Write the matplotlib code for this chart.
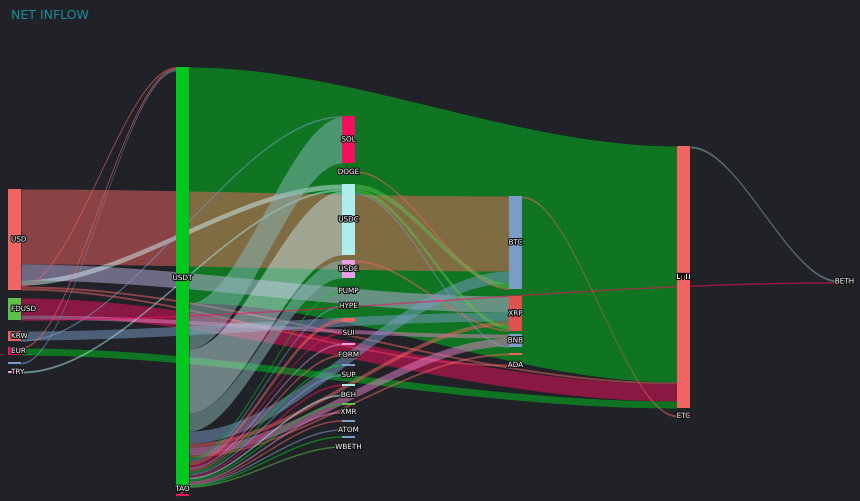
import numpy as np
import matplotlib
matplotlib.use("Agg")
import matplotlib.pyplot as plt
import matplotlib.patheffects as pe

# ---- data ----
node_names = ["USD","FDUSD","KRW","EUR","N_BLUE","TRY",
              "USDT","TAO",
              "SOL","DOGE","USDC","USDE","PUMP","HYPE","N_RED","SUI","N_PINK","FORM","N_BLUE2",
              "SUP","N_CYAN","BCH","N_GREEN","XMR","N_G1","ATOM","N_G2","WBETH",
              "BTC","XRP","BNB","N_RED2","ADA",
              "ETH","ETC","BETH"]
node_labels = ["USD","FDUSD","KRW","EUR","","TRY",
               "USDT","TAO",
               "SOL","DOGE","USDC","USDE","PUMP","HYPE","","SUI","","FORM","",
               "SUP","","BCH","","XMR","","ATOM","","WBETH",
               "BTC","XRP","BNB","","ADA",
               "ETH","ETC","BETH"]
node_colors = ["#f26464","#5cc24a","#f26464","#f2105e","#7a9cc8","#e8a0e8",
               "#00c81e","#f2105e",
               "#f2105e","#f26464","#b0eeee","#e8a0e8","#7a9cc8","#00a020","#f26464","#7a9cc8","#e8a0e8","#7a9cc8","#7a9cc8",
               "#7a9cc8","#b0eeee","#7a9cc8","#5cc24a","#7a9cc8","#7a9cc8","#7a9cc8","#7a9cc8","#5cc24a",
               "#7a9cc8","#e05050","#7a9cc8","#f26464","#f26464",
               "#f26464","#f26464","#5cc24a"]

link_src = ["USDT","USD","USD","USD","USD","USD","USD","FDUSD","FDUSD","KRW","KRW","EUR","EUR","N_BLUE","TRY",
            "USDT","USDT","USDT","USDT","USDT","USDT","USDT","USDT","USDT","USDT","USDT","USDT","USDT",
            "USDT","USDT","USDT","USDT","USDT","USDT","USDT","USDT","USDT","USDT","USDT",
            "USDC","USDC","USDC","DOGE","USDE","BTC","ETH","FDUSD"]
link_tgt = ["ETH","BTC","XRP","USDC","USDT","ETH","ADA","ETH","BNB","XRP","SOL","USDT","ETH","USDT","USDC",
            "SOL","USDC","USDE","BTC","XRP","BNB","N_RED2","PUMP","HYPE","N_RED","SUI","N_PINK","FORM",
            "N_BLUE2","SUP","N_CYAN","BCH","N_GREEN","XMR","N_G1","ATOM","N_G2","WBETH","TAO",
            "BTC","XRP","BNB","BTC","XRP","ETC","BETH","BETH"]
link_val = [236,75,16,5,1,2,2,17,4,9,1,1,7,2,2,
            46,64,18,12,4,8,2,2,2,4,2,2,2,
            2,2,2,2,2,2,1,1,1,1,2,
            5,4,1,1,2,2,2,1]
link_colors = ["#00c81e","#f26464","#c0b0e0","#d0f0f0","#f26464","#f26464","#f26464","#f2105e","#e880c8","#7a9cc8","#7a9cc8","#f26464","#00c81e","#7a9cc8","#b0eeee",
               "#8ab8b8","#c0e0e0","#8ab8b8","#7a9cc8","#f26464","#e880c8","#f26464","#00c81e","#7a9cc8","#f26464","#f2105e","#e880c8","#f26464",
               "#00c81e","#7a9cc8","#f2105e","#b0eeee","#00c81e","#e880c8","#f26464","#7a9cc8","#00c81e","#5cc24a","#f26464",
               "#5cc24a","#5cc24a","#7a9cc8","#f26464","#f26464","#f26464","#8ab8b8","#f2105e"]

# ---- layout ----
col_x = {"USD":8,"FDUSD":8,"KRW":8,"EUR":8,"N_BLUE":8,"TRY":8,"USDT":176,"TAO":176,
         "BTC":509,"XRP":509,"BNB":509,"N_RED2":509,"ADA":509,"ETH":677,"ETC":677,"BETH":838}
node_top = {"USD":189,"FDUSD":298,"KRW":331,"EUR":347,"N_BLUE":362,"TRY":371,"USDT":67,"TAO":494,
            "SOL":116,"DOGE":171,"USDC":184,"USDE":260,"PUMP":290,"HYPE":305,"N_RED":318,"SUI":332,
            "N_PINK":343,"FORM":354,"N_BLUE2":364,"SUP":374,"N_CYAN":384,"BCH":394,"N_GREEN":403,
            "XMR":411,"N_G1":420,"ATOM":429,"N_G2":436,"WBETH":446,
            "BTC":196,"XRP":296,"BNB":334,"N_RED2":353,"ADA":364,"ETH":146,"ETC":415,"BETH":280}
NW = 13
idx = {n:i for i,n in enumerate(node_names)}
inflow = {n:0 for n in node_names}; outflow = {n:0 for n in node_names}
for s,t,v in zip(link_src,link_tgt,link_val):
    outflow[s]+=v; inflow[t]+=v
height = {n:max(inflow[n],outflow[n],2) for n in node_names}
xpos = {n:col_x.get(n,342) for n in node_names}

fig = plt.figure(figsize=(8.6,5.01),dpi=100,facecolor="#202227")
ax = fig.add_axes([0,0,1,1]); ax.set_facecolor("#202227")
ax.set_xlim(0,860); ax.set_ylim(501,0); ax.axis("off")

out_off = {n:0 for n in node_names}; in_off = {n:0 for n in node_names}
for i in range(len(link_val)):
    s,t,v=link_src[i],link_tgt[i],link_val[i]
    y0=node_top[s]+out_off[s]; out_off[s]+=v
    y1=node_top[t]+in_off[t]; in_off[t]+=v
    x0=xpos[s]+NW; x1=xpos[t]
    xs=np.linspace(x0,x1,160); u=(xs-x0)/(x1-x0)
    e=3*u**2-2*u**3
    y=y0+(y1-y0)*e
    ax.fill_between(xs,y,y+v,color=link_colors[i],alpha=0.5,lw=0.3 if v<2 else 0,
                    edgecolor=link_colors[i],zorder=1)

for n in node_names:
    c=node_colors[idx[n]]
    ax.add_patch(plt.Rectangle((xpos[n],node_top[n]),NW,height[n],color=c,zorder=3,lw=0))
    lab=node_labels[idx[n]]
    if lab:
        left = xpos[n] < 20
        ty = node_top[n]+height[n]/2
        if n == "TAO":
            ty = node_top[n]-5
        ax.text(xpos[n]+3 if left else xpos[n]+NW/2, ty, lab,
                ha="left" if left else "center", va="center", fontsize=5.2, color="white",
                zorder=4, path_effects=[pe.withStroke(linewidth=1.6,foreground="#111111")])

ax.text(11,15,"NET INFLOW",color="#1a8fa0",fontsize=9,va="center",ha="left")
fig.savefig("out.png",dpi=100,facecolor="#202227")
